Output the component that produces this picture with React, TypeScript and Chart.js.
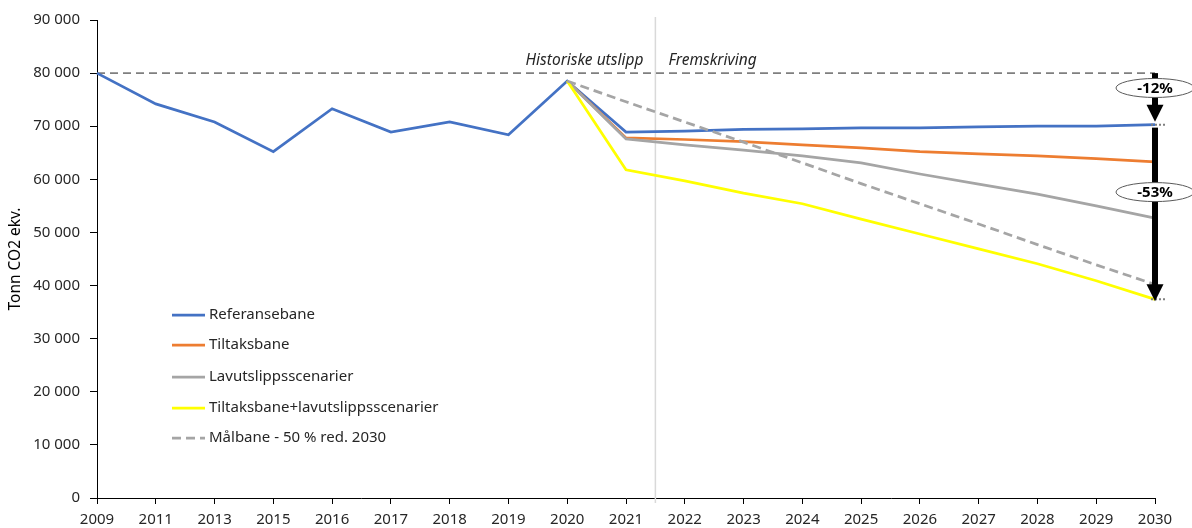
import React, { useEffect, useRef } from 'react';
import { Chart, registerables } from 'chart.js';

Chart.register(...registerables);

const years = ['2009', '2011', '2013', '2015', '2016', '2017', '2018', '2019', '2020', '2021', '2022', '2023', '2024', '2025', '2026', '2027', '2028', '2029', '2030'];
const referansebane = [80000, 74200, 70800, 65200, 73300, 68900, 70800, 68400, 78500, 68900, 69100, 69400, 69500, 69700, 69700, 69900, 70000, 70000, 70300];
const tiltaksbane = [null, null, null, null, null, null, null, null, 78500, 67800, 67500, 67100, 66500, 65900, 65200, 64800, 64400, 63900, 63300];
const lavutslipp = [null, null, null, null, null, null, null, null, 78500, 67600, 66500, 65500, 64400, 63100, 61000, 59100, 57200, 55000, 52700];
const kombinert = [null, null, null, null, null, null, null, null, 78500, 61800, 59700, 57400, 55400, 52500, 49700, 46900, 44100, 40900, 37400];
const malbane = [null, null, null, null, null, null, null, null, 78500, 74600, 70800, 67000, 63100, 59200, 55400, 51600, 47700, 43900, 40200];
const niva2009 = years.map(() => 80000);
const yTicks = [0, 10000, 20000, 30000, 40000, 50000, 60000, 70000, 80000, 90000];
const seriesLabels = ['Referansebane', 'Tiltaksbane', 'Lavutslippsscenarier', 'Tiltaksbane+lavutslippsscenarier', 'Målbane - 50 % red. 2030'];
const arrowLabels = ['-12%', '-53%'];

const FONT = '"Noto Sans", "Open Sans", sans-serif';
const TEXT = '#262626';

function fmt(v: number): string {
  if (v === 0) return '0';
  const s = String(Math.round(v));
  return s.replace(/\B(?=(\d{3})+(?!\d))/g, ' ');
}

const overlayPlugin = {
  id: 'overlay',
  beforeDatasetsDraw(chart: any) {
    const ctx = chart.ctx;
    const xs = chart.scales.x;
    const ys = chart.scales.y;
    const i2021 = years.indexOf('2021');
    const lineX = (xs.getPixelForValue(i2021) + xs.getPixelForValue(i2021 + 1)) / 2;
    ctx.save();
    ctx.strokeStyle = '#d9d9d9';
    ctx.lineWidth = 1.5;
    ctx.beginPath();
    ctx.moveTo(lineX, chart.chartArea.top - 3);
    ctx.lineTo(lineX, chart.chartArea.bottom + 5);
    ctx.stroke();
    ctx.fillStyle = TEXT;
    ctx.font = `italic 15.5px ${FONT}`;
    ctx.textBaseline = 'middle';
    const ty = ys.getPixelForValue(82300);
    ctx.textAlign = 'right';
    ctx.fillText('Historiske utslipp', lineX - 12, ty);
    ctx.textAlign = 'left';
    ctx.fillText('Fremskriving', lineX + 13, ty);
    ctx.restore();
  },
  afterDatasetsDraw(chart: any) {
    const ctx = chart.ctx;
    const xs = chart.scales.x;
    const ys = chart.scales.y;
    const last = years.length - 1;
    const x = xs.getPixelForValue(last);
    const refEnd = referansebane[last];
    const kombEnd = kombinert[last] as number;

    const drawArrow = (y0: number, y1: number) => {
      const head = 17;
      ctx.fillStyle = '#000';
      ctx.fillRect(x - 3, y0, 6, y1 - y0 - head + 1);
      ctx.beginPath();
      ctx.moveTo(x - 8.5, y1 - head);
      ctx.lineTo(x + 8.5, y1 - head);
      ctx.lineTo(x, y1);
      ctx.closePath();
      ctx.fill();
    };
    const drawDots = (y: number) => {
      ctx.save();
      ctx.strokeStyle = '#7f7f7f';
      ctx.lineWidth = 2;
      ctx.setLineDash([2, 2]);
      ctx.beginPath();
      ctx.moveTo(x - 4, y);
      ctx.lineTo(x + 10, y);
      ctx.stroke();
      ctx.restore();
    };
    const drawBadge = (yv: number, text: string) => {
      const y = ys.getPixelForValue(yv);
      ctx.save();
      ctx.beginPath();
      ctx.ellipse(x, y, 39, 9.5, 0, 0, Math.PI * 2);
      ctx.fillStyle = '#fff';
      ctx.fill();
      ctx.strokeStyle = '#595959';
      ctx.lineWidth = 1;
      ctx.stroke();
      ctx.fillStyle = '#000';
      ctx.font = `bold 15px ${FONT}`;
      ctx.textAlign = 'center';
      ctx.textBaseline = 'middle';
      ctx.fillText(text, x, y + 0.5);
      ctx.restore();
    };

    ctx.save();
    drawDots(ys.getPixelForValue(refEnd));
    drawDots(ys.getPixelForValue(kombEnd));
    drawArrow(ys.getPixelForValue(80000), ys.getPixelForValue(refEnd) - 3);
    drawArrow(ys.getPixelForValue(refEnd) + 3, ys.getPixelForValue(kombEnd) + 2);
    ctx.restore();
    drawBadge(77200, arrowLabels[0]);
    drawBadge(57600, arrowLabels[1]);
  },
  afterDraw(chart: any) {
    const ctx = chart.ctx;
    const ds = chart.data.datasets.filter((d: any) => !d.hideLegend);
    const left = chart.chartArea.left + 75;
    const rowsY = [315, 345, 377, 408, 438];
    ctx.save();
    ds.forEach((d: any, i: number) => {
      const y = rowsY[i];
      ctx.strokeStyle = d.borderColor;
      ctx.lineWidth = d.borderWidth;
      ctx.setLineDash(d.borderDash || []);
      ctx.beginPath();
      ctx.moveTo(left, y);
      ctx.lineTo(left + 33, y);
      ctx.stroke();
      ctx.setLineDash([]);
      ctx.fillStyle = TEXT;
      ctx.font = `15px ${FONT}`;
      ctx.textAlign = 'left';
      ctx.textBaseline = 'middle';
      ctx.fillText(d.label, left + 37, y);
    });
    ctx.restore();
  },
};

export default function App() {
  const ref = useRef<HTMLCanvasElement | null>(null);
  useEffect(() => {
    document.body.style.margin = '0';
    if (!ref.current) return;
    const mk = (label: string, data: any[], color: string, width: number, order: number, dash?: number[]) => ({
      label,
      data,
      borderColor: color,
      backgroundColor: color,
      borderWidth: width,
      borderDash: dash,
      pointRadius: 0,
      pointHoverRadius: 0,
      tension: 0,
      fill: false,
      spanGaps: false,
      order,
    });
    const chart = new Chart(ref.current, {
      type: 'line',
      data: {
        labels: years,
        datasets: [
          mk(seriesLabels[0], referansebane, '#4472c4', 2.75, 6),
          mk(seriesLabels[1], tiltaksbane, '#ed7d31', 2.75, 5),
          mk(seriesLabels[2], lavutslipp, '#a5a5a5', 2.75, 4),
          mk(seriesLabels[3], kombinert, '#ffff00', 2.75, 3),
          mk(seriesLabels[4], malbane, '#a5a5a5', 2.75, 2, [9, 5]),
          { ...mk('Nivå 2009', niva2009, '#7f7f7f', 1.75, 7, [8, 5]), hideLegend: true },
        ] as any,
      },
      options: {
        responsive: false,
        animation: false,
        layout: { padding: { top: 20, right: 37, left: 0, bottom: 0 } },
        plugins: {
          legend: { display: false },
          tooltip: { enabled: false },
        },
        scales: {
          x: {
            type: 'category',
            offset: false,
            grid: { display: true, drawOnChartArea: false, drawTicks: true, tickLength: 6, color: '#000' },
            border: { display: true, color: '#000', width: 1 },
            ticks: {
              color: TEXT,
              font: { family: FONT, size: 15 },
              padding: 7,
              maxRotation: 0,
              autoSkip: false,
            },
            afterFit: (s: any) => { s.height = 30; },
          },
          y: {
            min: 0,
            max: 90000,
            afterBuildTicks: (s: any) => { s.ticks = yTicks.map((v) => ({ value: v })); },
            grid: { display: true, drawOnChartArea: false, drawTicks: true, tickLength: 7, color: '#000' },
            border: { display: true, color: '#000', width: 1 },
            ticks: {
              color: TEXT,
              font: { family: FONT, size: 15 },
              padding: 10,
              callback: (v: any) => fmt(Number(v)),
            },
            title: {
              display: true,
              text: 'Tonn CO2 ekv.',
              color: '#000',
              font: { family: FONT, size: 15.5 },
              padding: { top: 6, bottom: 0 },
            },
            afterFit: (s: any) => { s.width = 97; },
          },
        },
      },
      plugins: [overlayPlugin],
    });
    return () => chart.destroy();
  }, []);
  return (
    <div style={{ width: 1192, height: 528, background: '#fff' }}>
      <canvas ref={ref} width={1192} height={528} />
    </div>
  );
}
